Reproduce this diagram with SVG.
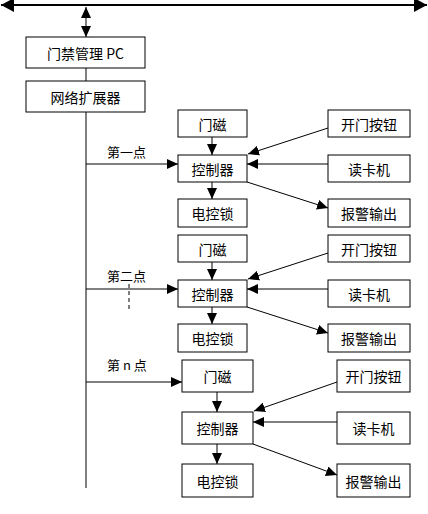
<svg xmlns="http://www.w3.org/2000/svg" width="428" height="514" viewBox="0 0 428 514">
<style>
.box{fill:#fff;stroke:#000;stroke-width:1}
.t{font-family:"Noto Sans CJK SC","Liberation Sans",sans-serif;font-size:14px;text-anchor:middle;dominant-baseline:central;fill:#000}
.lbl{font-family:"Noto Sans CJK SC","Liberation Sans",sans-serif;font-size:13px;fill:#000}
.ln{stroke:#000;stroke-width:1;fill:none}
.a{marker-end:url(#ah)}
</style>
<defs>
<marker id="ah" markerUnits="userSpaceOnUse" markerWidth="12" markerHeight="10" refX="11" refY="5" orient="auto">
<path d="M0,0 L11,5 L0,10 Z" fill="#000"/>
</marker>
<marker id="ahs" markerUnits="userSpaceOnUse" markerWidth="12" markerHeight="10" refX="11" refY="5" orient="auto-start-reverse">
<path d="M0,0 L11,5 L0,10 Z" fill="#000"/>
</marker>
<marker id="ahb" markerUnits="userSpaceOnUse" markerWidth="14" markerHeight="14" refX="13" refY="7" orient="auto-start-reverse">
<path d="M0,0 L13,7 L0,14 Z" fill="#000"/>
</marker>
</defs>

<g id="connectors">
<line x1="1" y1="5" x2="427" y2="5" stroke="#000" stroke-width="2" marker-start="url(#ahb)" marker-end="url(#ahb)"/>
<line class="ln" x1="86" y1="7" x2="86" y2="37" marker-start="url(#ahs)" marker-end="url(#ahs)"/>
<line class="ln" x1="86" y1="68" x2="86" y2="81"/>
<line class="ln" x1="86" y1="112" x2="86" y2="488"/>
<!-- section 1 -->
<line class="ln a" x1="86" y1="164" x2="178" y2="164"/>
<line class="ln a" x1="212" y1="137" x2="212" y2="155"/>
<line class="ln a" x1="212" y1="182" x2="212" y2="199"/>
<line class="ln a" x1="328" y1="128" x2="248" y2="154"/>
<line class="ln a" x1="328" y1="164" x2="247" y2="164"/>
<line class="ln a" x1="247" y1="182" x2="328" y2="208"/>
<!-- section 2 -->
<line class="ln a" x1="86" y1="289" x2="178" y2="289"/>
<line class="ln" x1="129" y1="284" x2="129" y2="311" stroke-dasharray="4,3"/>
<line class="ln a" x1="212" y1="262" x2="212" y2="280"/>
<line class="ln a" x1="212" y1="307" x2="212" y2="324"/>
<line class="ln a" x1="328" y1="253" x2="248" y2="279"/>
<line class="ln a" x1="328" y1="289" x2="247" y2="289"/>
<line class="ln a" x1="247" y1="307" x2="328" y2="333"/>
<!-- section 3 -->
<line class="ln a" x1="86" y1="382" x2="182" y2="382"/>
<line class="ln a" x1="217" y1="392" x2="217" y2="412"/>
<line class="ln a" x1="217" y1="444" x2="217" y2="464"/>
<line class="ln a" x1="337" y1="382" x2="254" y2="411"/>
<line class="ln a" x1="337" y1="422" x2="253" y2="422"/>
<line class="ln a" x1="253" y1="444" x2="337" y2="475"/>
</g>

<g id="labels">
<text class="lbl" x="107" y="157">第一点</text>
<text class="lbl" x="107" y="281">第二点</text>
<text class="lbl" x="107" y="370">第 n 点</text>
</g>

<g id="pc"><rect class="box" x="26" y="37" width="119" height="31"/><text class="t" x="85.5" y="52.5">门禁管理 PC</text></g>
<g id="expander"><rect class="box" x="26" y="81" width="119" height="31"/><text class="t" x="85.5" y="96.5">网络扩展器</text></g>

<g id="s1-door"><rect class="box" x="178" y="110" width="69" height="27"/><text class="t" x="212.5" y="123.5">门磁</text></g>
<g id="s1-ctrl"><rect class="box" x="178" y="155" width="69" height="27"/><text class="t" x="212.5" y="168.5">控制器</text></g>
<g id="s1-lock"><rect class="box" x="178" y="199" width="69" height="28"/><text class="t" x="212.5" y="213">电控锁</text></g>
<g id="s1-btn"><rect class="box" x="328" y="110" width="82" height="27"/><text class="t" x="369" y="123.5">开门按钮</text></g>
<g id="s1-reader"><rect class="box" x="328" y="155" width="82" height="27"/><text class="t" x="369" y="168.5">读卡机</text></g>
<g id="s1-alarm"><rect class="box" x="328" y="199" width="82" height="28"/><text class="t" x="369" y="213">报警输出</text></g>

<g id="s2-door"><rect class="box" x="178" y="235" width="69" height="27"/><text class="t" x="212.5" y="248.5">门磁</text></g>
<g id="s2-ctrl"><rect class="box" x="178" y="280" width="69" height="27"/><text class="t" x="212.5" y="293.5">控制器</text></g>
<g id="s2-lock"><rect class="box" x="178" y="324" width="69" height="28"/><text class="t" x="212.5" y="338">电控锁</text></g>
<g id="s2-btn"><rect class="box" x="328" y="235" width="82" height="27"/><text class="t" x="369" y="248.5">开门按钮</text></g>
<g id="s2-reader"><rect class="box" x="328" y="280" width="82" height="27"/><text class="t" x="369" y="293.5">读卡机</text></g>
<g id="s2-alarm"><rect class="box" x="328" y="324" width="82" height="28"/><text class="t" x="369" y="338">报警输出</text></g>

<g id="s3-door"><rect class="box" x="182" y="360" width="71" height="32"/><text class="t" x="217.5" y="376">门磁</text></g>
<g id="s3-ctrl"><rect class="box" x="182" y="412" width="71" height="32"/><text class="t" x="217.5" y="428">控制器</text></g>
<g id="s3-lock"><rect class="box" x="182" y="464" width="71" height="33"/><text class="t" x="217.5" y="480.5">电控锁</text></g>
<g id="s3-btn"><rect class="box" x="337" y="360" width="73" height="32"/><text class="t" x="373.5" y="376">开门按钮</text></g>
<g id="s3-reader"><rect class="box" x="337" y="412" width="73" height="32"/><text class="t" x="373.5" y="428">读卡机</text></g>
<g id="s3-alarm"><rect class="box" x="337" y="464" width="73" height="33"/><text class="t" x="373.5" y="480.5">报警输出</text></g>
</svg>
